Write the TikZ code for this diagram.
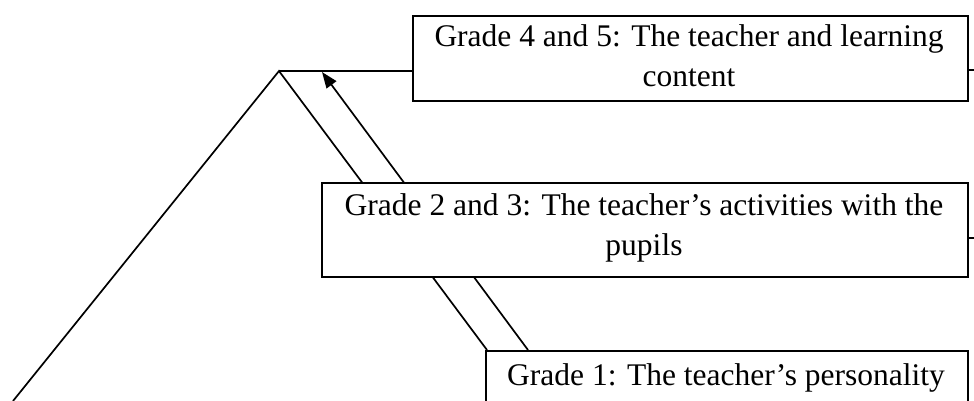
\documentclass[tikz,border=0pt]{standalone}
\usepackage{fontspec}
\setmainfont{Liberation Serif}
\usetikzlibrary{arrows.meta,calc}
\begin{document}
\begin{tikzpicture}[x=1pt,y=-1pt,
  conn/.style={line width=1.7pt},
  box/.style={draw, line width=1.8pt, fill=white, anchor=north west, inner sep=0pt},
  lbl/.style={font=\fontsize{31.5}{40}\selectfont, align=center, anchor=base, inner sep=0pt}]
\useasboundingbox (0,0) rectangle (974,401);
\coordinate (apex) at (279,71);
\coordinate (foot) at (13,401);
\coordinate (a1) at (487,350);
\coordinate (a2) at (528,350);
\coordinate (tip) at (322,72);
\coordinate (s1) at (974,70);
\coordinate (s2) at (974,238);
\draw[conn] (foot) -- (apex) -- (a1);
\draw[conn, -{Triangle[length=16pt,width=12pt]}] (a2) -- (tip);
\node[box, minimum width=555pt, minimum height=85pt] (b1) at (412,15) {};
\node[box, minimum width=646pt, minimum height=94pt] (b2) at (321,182) {};
\node[box, minimum width=482pt, minimum height=90pt] (b3) at (485,350) {};
\draw[conn] (apex) -- (apex -| b1.west);
\draw[conn] (b1.east |- s1) -- (s1);
\draw[conn] (b2.east |- s2) -- (s2);
\node[lbl] (t1) at (689,87) {Grade 4 and 5: The teacher and learning\\content};
\node[lbl] (t2) at (644,255) {Grade 2 and 3: The teacher’s activities with the\\pupils};
\node[lbl] (t3) at (726,385) {Grade 1: The teacher’s personality};
\end{tikzpicture}
\end{document}
